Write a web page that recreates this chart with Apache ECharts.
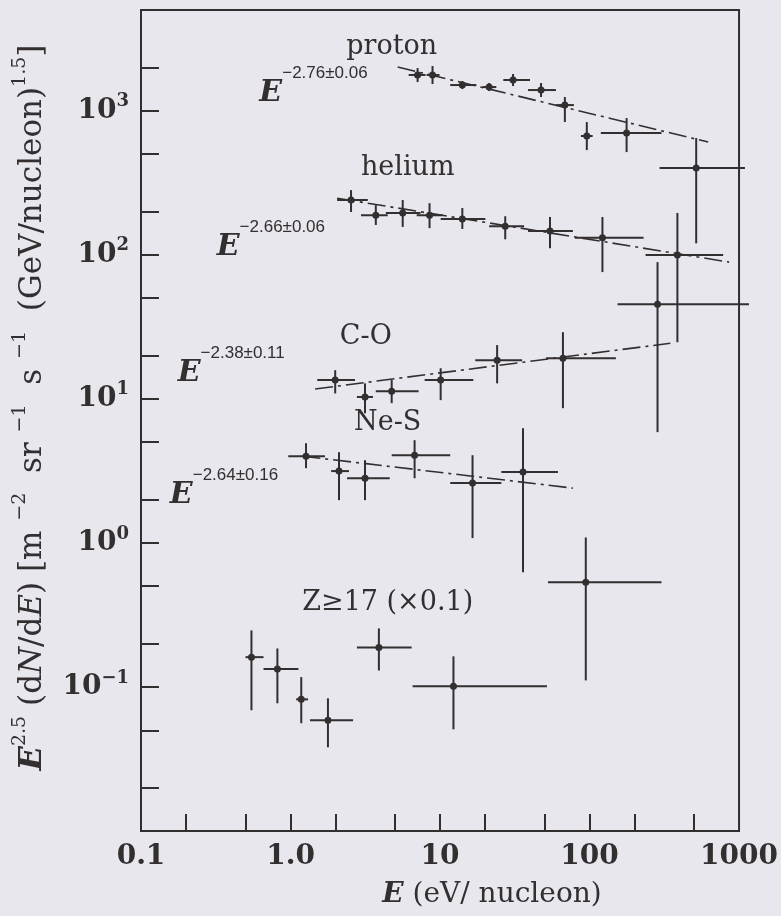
<!DOCTYPE html>
<html>
<head>
<meta charset="utf-8">
<style>
  html, body { margin: 0; padding: 0; background: #e8e7ee; }
  #chart { width: 781px; height: 916px; }
</style>
</head>
<body>
<div id="chart"></div>
<script src="https://cdn.jsdelivr.net/npm/echarts@6/dist/echarts.min.js"></script>
<script>
// rows: [E, flux, E low, E high, flux low, flux high]
const proton = [
  [7.08, 1770, 6.17, 8.0, 1581, 1977],
  [8.91, 1770, 8.13, 9.93, 1531, 2042],
  [14.1, 1507, 11.7, 17.5, 1413, 1607],
  [21.3, 1459, 19.2, 23.8, 1369, 1556],
  [30.8, 1633, 26.5, 40.0, 1483, 1797],
  [47.4, 1391, 38.8, 59.6, 1244, 1556],
  [68.4, 1094, 59.6, 78.6, 834, 1244],
  [95.9, 667, 87.5, 105, 533, 834],
  [177, 700, 119, 303, 516, 889],
  [517, 400, 294, 1096, 120, 646]
]
const helium = [
  [2.54, 240, 2.05, 3.29, 198, 281],
  [3.72, 188, 2.96, 4.47, 161, 221],
  [5.63, 195, 4.34, 7.41, 156, 240],
  [8.51, 188, 6.98, 10.4, 153, 228],
  [14.1, 177, 10.1, 20.1, 151, 211],
  [27.3, 158, 21.3, 36.5, 128, 185],
  [54.4, 146, 38.8, 77.4, 111, 183],
  [122, 131, 79.8, 230, 75.8, 183],
  [387, 99.5, 237, 783, 24.7, 195]
]
const carbonOxygen = [
  [1.99, 13.5, 1.51, 2.70, 10.9, 15.8],
  [3.15, 10.3, 2.78, 3.56, 7.94, 12.8],
  [4.75, 11.3, 3.72, 7.19, 9.33, 13.5],
  [10.1, 13.5, 7.89, 16.7, 9.79, 16.3],
  [24.1, 18.5, 17.2, 35.4, 12.8, 23.6],
  [66.4, 19.1, 51.2, 150, 8.61, 29.0],
  [285, 45.4, 154, 1166, 5.87, 88.9]
]
const neonSulfur = [
  [1.27, 4.0, 0.966, 1.70, 3.30, 4.92],
  [2.11, 3.15, 1.87, 2.46, 1.98, 4.26],
  [3.15, 2.81, 2.39, 4.61, 1.98, 3.75],
  [6.76, 4.06, 4.75, 11.7, 2.81, 5.16],
  [16.5, 2.60, 11.7, 25.7, 1.08, 4.06],
  [35.9, 3.10, 25.7, 61.5, 0.625, 6.25]
]
const heavy = [
  [0.548, 0.161, 0.50, 0.66, 0.0689, 0.247],
  [0.817, 0.133, 0.66, 1.13, 0.077, 0.185],
  [1.18, 0.082, 1.09, 1.31, 0.056, 0.117],
  [1.78, 0.0587, 1.35, 2.62, 0.0381, 0.0834],
  [3.90, 0.188, 2.78, 6.46, 0.130, 0.255],
  [12.3, 0.101, 6.56, 51.9, 0.0508, 0.163],
  [94.4, 0.533, 52.7, 303, 0.111, 1.09]
]

// power-law fits, end points
const protonFit = [[5.21, 2010], [622, 606]]
const heliumFit = [[2.05, 247], [858, 88.9]]
const carbonOxygenFit = [[1.46, 11.7], [347, 24.3]]
const neonSulfurFit = [[1.20, 4.0], [77.4, 2.40]]

// annotations (data coordinates)
const groupNames = ['proton', 'helium', 'C-O', 'Ne-S', 'Z≥17 (×0.1)']
const groupNameAt = [[4.75, 2767], [6.08, 400], [3.19, 26.8], [4.47, 6.78], [4.47, 0.381]]
const slopeText = ['−2.76±0.06', '−2.66±0.06', '−2.38±0.11', '−2.64±0.16']
const slopeAt = [[0.619, 1326], [0.321, 113], [0.176, 15.1], [0.156, 2.14]]

// axes
const xTickValues = [0.2, 0.5, 1, 2, 5, 10, 20, 50, 100, 200, 500]
const xLabelValues = [0.1, 1, 10, 100, 1000]
const xLabelText = ['0.1', '1.0', '10', '100', '1000']
const yTickValues = [0.02, 0.05, 0.1, 0.2, 0.5, 1, 2, 5, 10, 20, 50, 100, 200, 500, 1000, 2000]
const yLabelValues = [0.1, 1, 10, 100, 1000]
const yLabelExp = ['−1', '0', '1', '2', '3']

const INK = '#332e2f'
const SERIF = '"DejaVu Serif", "Liberation Serif", serif'
const SANS = '"Liberation Sans", Arial, sans-serif'

const findIdx = (list, v) => list.findIndex(u => Math.abs(Math.log10(u) - Math.log10(v)) < 1e-6)

function renderErr(params, api) {
  const x = api.value(0)
  const y = api.value(1)
  const c = api.coord([x, y])
  const l = api.coord([api.value(2), y])
  const r = api.coord([api.value(3), y])
  const b = api.coord([x, api.value(4)])
  const t = api.coord([x, api.value(5)])
  const stroke = { stroke: INK, lineWidth: 2 }
  return {
    type: 'group',
    children: [
      { type: 'line', shape: { x1: l[0], y1: l[1], x2: r[0], y2: r[1] }, style: stroke },
      { type: 'line', shape: { x1: t[0], y1: t[1], x2: b[0], y2: b[1] }, style: stroke },
      { type: 'circle', shape: { cx: c[0], cy: c[1], r: 3.5 }, style: { fill: INK } }
    ]
  }
}

function errSeries(name, data) {
  return {
    name,
    type: 'custom',
    renderItem: renderErr,
    encode: { x: 0, y: 1 },
    data,
    clip: false,
    silent: true,
    z: 3
  }
}

function fitSeries(name, data) {
  return {
    name,
    type: 'line',
    data,
    symbol: 'none',
    silent: true,
    lineStyle: { color: INK, width: 1.6, type: [18, 5, 3, 5] },
    z: 2
  }
}

const chart = echarts.init(document.getElementById('chart'))

const option = {
  backgroundColor: '#e8e7ee',
  animation: false,
  grid: {
    left: 141,
    right: 38,
    top: 10,
    bottom: 85,
    show: true,
    borderColor: INK,
    borderWidth: 2,
    backgroundColor: 'transparent'
  },
  xAxis: {
    type: 'log',
    logBase: 10,
    min: 0.1,
    max: 1000,
    name: '{ei|E}{n| (eV/ nucleon)}',
    nameLocation: 'middle',
    nameGap: 50,
    nameTextStyle: {
      padding: [0, 0, 0, 104],
      rich: {
        ei: { fontFamily: SERIF, fontSize: 28, fontStyle: 'italic', fontWeight: 'bold', color: INK },
        n: { fontFamily: SERIF, fontSize: 28, color: INK }
      }
    },
    axisLine: { show: true, lineStyle: { color: INK, width: 2 } },
    axisTick: {
      show: true,
      inside: true,
      length: 17,
      customValues: xTickValues,
      lineStyle: { color: INK, width: 2 }
    },
    splitLine: { show: false },
    minorTick: { show: false },
    axisLabel: {
      customValues: xLabelValues,
      margin: 12,
      fontFamily: SERIF,
      fontSize: 28,
      fontWeight: 'bold',
      color: INK,
      formatter: v => xLabelText[findIdx(xLabelValues, v)]
    }
  },
  yAxis: {
    type: 'log',
    logBase: 10,
    min: 0.01,
    max: 5000,
    name: '{ei|E}{sup|2.5}{n| (d}{ni|N}{n|/d}{ni|E}{n|) [m }{sup|−2}{n|  sr }{sup|−1}{n|  s }{sup|−1}{n|  (GeV/nucleon)}{sup|1.5}{n|]}',
    nameLocation: 'middle',
    nameRotate: 90,
    nameGap: 86,
    nameTextStyle: {
      padding: [0, 0, 0, 26],
      rich: {
        ei: { fontFamily: SERIF, fontSize: 32, fontStyle: 'italic', fontWeight: 'bold', color: INK, lineHeight: 44 },
        ni: { fontFamily: SERIF, fontSize: 31, fontStyle: 'italic', color: INK, lineHeight: 44 },
        n: { fontFamily: SERIF, fontSize: 31, color: INK, lineHeight: 44 },
        sup: { fontFamily: SERIF, fontSize: 19, color: INK, lineHeight: 10, verticalAlign: 'top' }
      }
    },
    axisLine: { show: true, lineStyle: { color: INK, width: 2 } },
    axisTick: {
      show: true,
      inside: true,
      length: 18,
      customValues: yTickValues,
      lineStyle: { color: INK, width: 2 }
    },
    splitLine: { show: false },
    minorTick: { show: false },
    axisLabel: {
      customValues: yLabelValues,
      margin: 12,
      formatter: v => '{b|10}{s|' + yLabelExp[findIdx(yLabelValues, v)] + '}',
      rich: {
        b: { fontFamily: SERIF, fontSize: 28, fontWeight: 'bold', color: INK, lineHeight: 36 },
        s: { fontFamily: SERIF, fontSize: 18, fontWeight: 'bold', color: INK, lineHeight: 10, verticalAlign: 'top' }
      }
    }
  },
  series: [
    errSeries('proton', proton),
    errSeries('helium', helium),
    errSeries('C-O', carbonOxygen),
    errSeries('Ne-S', neonSulfur),
    errSeries('Z≥17', heavy),
    fitSeries('proton fit', protonFit),
    fitSeries('helium fit', heliumFit),
    fitSeries('C-O fit', carbonOxygenFit),
    fitSeries('Ne-S fit', neonSulfurFit),
    {
      name: 'group names',
      type: 'scatter',
      symbolSize: 0,
      silent: true,
      z: 4,
      itemStyle: { opacity: 1 },
      data: groupNames.map((t, i) => ({ value: groupNameAt[i], name: t })),
      label: {
        show: true,
        position: 'inside',
        formatter: p => p.name,
        fontFamily: SERIF,
        fontSize: 27,
        color: INK,
        opacity: 1
      }
    },
    {
      name: 'slopes',
      type: 'scatter',
      symbolSize: 0,
      silent: true,
      z: 4,
      itemStyle: { opacity: 1 },
      data: slopeText.map((t, i) => ({ value: slopeAt[i], name: t })),
      label: {
        show: true,
        position: 'right',
        distance: 0,
        opacity: 1,
        formatter: p => '{e|E}{s|' + p.name + '}',
        rich: {
          e: { fontFamily: SERIF, fontSize: 30, fontStyle: 'italic', fontWeight: 'bold', color: INK, lineHeight: 56 },
          s: { fontFamily: SANS, fontSize: 17, color: INK, lineHeight: 6, verticalAlign: 'top' }
        }
      }
    }
  ]
}

chart.setOption(option)
</script>
</body>
</html>
